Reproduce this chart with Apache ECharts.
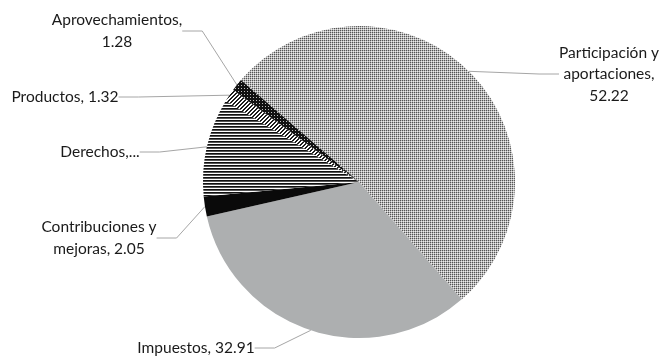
<!DOCTYPE html>
<html>
<head>
<meta charset="utf-8">
<script src="https://cdn.jsdelivr.net/npm/echarts@6/dist/echarts.min.js"></script>
<style>
html,body{margin:0;padding:0;background:#fff;}
#chart{width:662px;height:358px;}
</style>
</head>
<body>
<div id="chart"></div>
<script>
// Data
var categories = ['Participación y aportaciones', 'Impuestos', 'Contribuciones y mejoras', 'Derechos', 'Productos', 'Aprovechamientos'];
var values = [52.22, 32.91, 2.05, 10.22, 1.32, 1.28];
var labelTexts = ['Participación y\naportaciones,\n52.22', 'Impuestos, 32.91', 'Contribuciones y\nmejoras, 2.05', 'Derechos,...', 'Productos, 1.32', 'Aprovechamientos,\n1.28'];

// Patterns
function makePattern(w, h, pixels) {
  var c = document.createElement('canvas');
  c.width = w; c.height = h;
  var ctx = c.getContext('2d');
  for (var y = 0; y < h; y++) {
    for (var x = 0; x < w; x++) {
      ctx.fillStyle = pixels(x, y);
      ctx.fillRect(x, y, 1, 1);
    }
  }
  return { image: c, repeat: 'repeat' };
}
var dotsPattern = makePattern(2, 2, function (x, y) {
  if (x === 0 && y === 0) return '#555555';
  if (x === 1 && y === 1) return '#ececec';
  return '#b8b8b8';
});
var hStripePattern = makePattern(1, 3, function (x, y) {
  return y === 0 ? '#111111' : (y === 1 ? '#555555' : '#ffffff');
});
var diagPattern = makePattern(4, 4, function (x, y) {
  return ((x + y) % 4 < 2) ? '#1e1e1e' : '#ffffff';
});
var darkDotPattern = makePattern(3, 3, function (x, y) {
  return (x === 1 && y === 1) ? '#bdbdbd' : '#111111';
});
var sliceColors = [dotsPattern, '#adafb0', '#0a0a0a', hStripePattern, diagPattern, darkDotPattern];

// Label anchor positions (layout only)
var labelPos = [
  { x: 609, y: 74, align: 'center' },
  { x: 196, y: 348, align: 'center' },
  { x: 99, y: 238, align: 'center' },
  { x: 100, y: 152, align: 'center' },
  { x: 65, y: 97, align: 'center' },
  { x: 117, y: 31, align: 'center' }
];

var chart = echarts.init(document.getElementById('chart'), null, { renderer: 'canvas' });
chart.setOption({
  backgroundColor: '#ffffff',
  animation: false,
  series: [{
    type: 'pie',
    center: [359, 182],
    radius: 156,
    startAngle: 139.2,
    clockwise: true,
    avoidLabelOverlap: false,
    data: categories.map(function (c, i) {
      return {
        name: c,
        value: values[i],
        itemStyle: { color: sliceColors[i] },
        label: { formatter: labelTexts[i] }
      };
    }),
    itemStyle: { borderWidth: 0 },
    label: {
      show: true,
      position: 'outside',
      color: '#1a1a1a',
      fontFamily: 'Lato',
      fontSize: 15.5,
      lineHeight: 21.5,
      align: 'center'
    },
    labelLine: {
      show: true,
      length: 20,
      length2: 20,
      lineStyle: { color: '#a6a6a6', width: 1 }
    },
    labelLayout: function (params) {
      var p = labelPos[params.dataIndex];
      return { x: p.x, y: p.y, align: p.align, verticalAlign: 'middle' };
    },
    emphasis: { disabled: true }
  }]
});
</script>
</body>
</html>
